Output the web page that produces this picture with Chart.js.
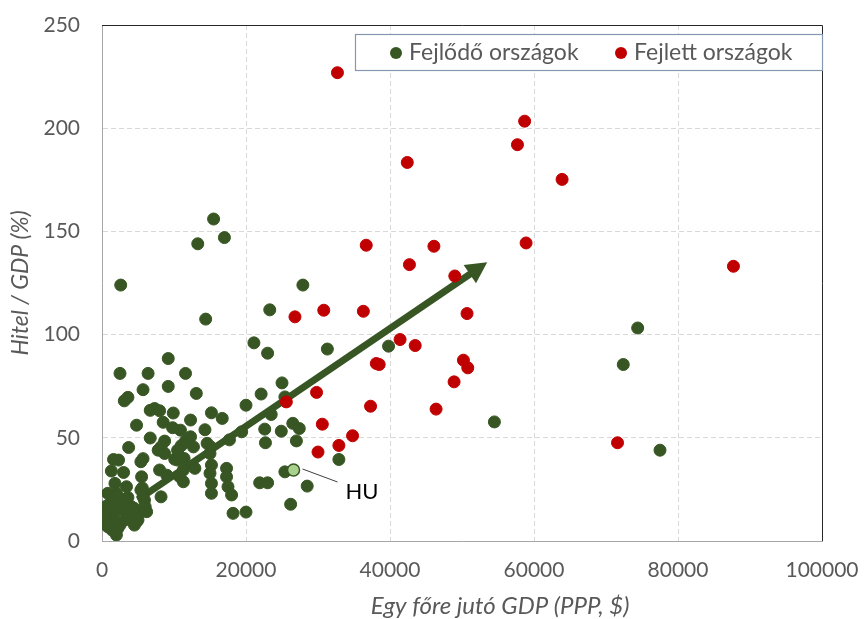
<!DOCTYPE html>
<html>
<head>
<meta charset="utf-8">
<script src="https://cdn.jsdelivr.net/npm/chart.js@4/dist/chart.umd.min.js"></script>
<style>
  html, body { margin: 0; padding: 0; background: #fff; }
  #wrap { width: 865px; height: 619px; }
</style>
</head>
<body>
<div id="wrap"><canvas id="chart" width="865" height="619"></canvas></div>
<script>
// --- Data -----------------------------------------------------------
// Fejlődő országok: [GDP/fő (PPP, $), Hitel/GDP (%)]
const fejlodoPoints = [
    [15500,156],[13300,144],[17000,147],[2600,124],[27900,124],[14400,107.5],[23300,112],
    [21100,96],[23000,91],[31300,93],[39800,94.4],[25000,76.6],[25400,69.8],[22100,71.2],
    [20000,65.8],[23500,61.3],[22600,54.2],[24900,53.2],[26500,57],[27400,54.5],[27000,48.5],
    [22700,47.6],[32900,39.5],[25400,33.5],[21900,28.2],[23000,28.2],[28500,26.6],[26200,17.8],
    [20000,14],[18200,13.4],[54500,57.7],[74400,103.2],[72400,85.5],[77500,44],
    [9200,88.4],[2500,81.2],[6400,81.2],[11600,81.2],[5700,73.3],[9200,74.9],[13100,71.5],
    [3600,69.6],[3100,67.9],[6700,63.3],[7300,64.2],[8000,63.1],[9900,62],[15200,62.1],
    [16700,59.4],[12300,58.6],[4800,56.1],[8500,57.5],[9800,54.9],[10900,53.7],[14300,53.9],
    [6700,49.9],[8700,48.4],[8200,45.6],[7800,44],[12300,50.5],[11600,48.4],[11000,46.2],
    [12700,45.6],[14600,47.3],[15100,45.6],[15000,42.4],[17700,49],[19400,52.9],[3700,45.3],
    [1600,39.5],[2300,39.2],[5700,39.9],[10100,39.6],[11400,40],[1300,33.9],[3000,33.2],
    [8000,34.4],[9000,31.9],[11300,34.4],[10800,31.1],[12900,35.2],[15200,36.8],[15000,32.8],
    [17300,35.2],[17300,31.1],[5500,31.1],[5600,25.7],[11300,28.7],[15200,27.9],[15200,23.1],
    [17500,26.3],[18000,22.3],[1800,27.9],[3400,26.3],[2000,23.1],[3600,21.1],[5700,21.4],
    [6000,16.6],[6200,14.2],[8200,21.4],[1100,18.2],[2700,18.2],[4100,16.6],[900,13.4],
    [2300,15],[3600,11.8],[5000,12.6],[4800,9.3],[900,8.6],[1800,5.3],[2000,2.9],[400,16.6],
    [1800,10.2],[400,11.8],[4500,7.7],[2200,6.1],[800,23.1],[2200,21.4],[5400,38.4],
    [8700,42.4],[10500,44],[10500,39.2],[5400,24.7],[5900,19.8],[4500,15.8],[5900,15.8],
    [3100,15],[1800,15],[5000,10.2],[800,6.9],[1400,5.3],[550,10.2],[2500,7.7],[3200,10.2]
];

// Fejlett országok
const fejlettPoints = [
    [32700,226.9],[58700,203.4],[57700,192],[42400,183.4],[63900,175.2],[58900,144.4],
    [36700,143.3],[46100,142.8],[42700,133.9],[49000,128.4],[87700,133.1],[26800,108.6],
    [30800,111.8],[36300,111.3],[50700,110.2],[41400,97.6],[43500,94.7],[38100,86],
    [38500,85.5],[50200,87.6],[50800,83.9],[48900,77.1],[29800,72],[25600,67.4],
    [37300,65.3],[46400,63.9],[30600,56.6],[34800,51],[32900,46.3],[30000,43.1],[71600,47.6]
];

// Magyarország
const huPoint = [26600, 34.4];
const huLabel = "HU";

// Trend arrow: start and end
const arrowFrom = [5000, 20];
const arrowTo = [53500, 135];

const seriesLabels = ["Fejlődő országok", "Fejlett országok"];
const xTicks = [0, 20000, 40000, 60000, 80000, 100000];
const yTicks = [0, 50, 100, 150, 200, 250];
const xTitle = "Egy főre jutó GDP (PPP, $)";
const yTitle = "Hitel / GDP (%)";

// --- Styles ---------------------------------------------------------
const GREEN = "#375623";
const RED = "#C00000";
const HU_FILL = "#A9D18E";
const TEXT = "#595959";
const FONT = "Lato, 'Open Sans', sans-serif";

const toXY = arr => arr.map(p => ({ x: p[0], y: p[1] }));

// arrow + frame + legend + HU label + x title
const decorPlugin = {
    id: "decor",
    beforeDatasetsDraw(chart) {
        const { ctx, scales: { x, y } } = chart;
        const x1 = x.getPixelForValue(arrowFrom[0]), y1 = y.getPixelForValue(arrowFrom[1]);
        const x2 = x.getPixelForValue(arrowTo[0]), y2 = y.getPixelForValue(arrowTo[1]);
        const ang = Math.atan2(y2 - y1, x2 - x1);
        const headLen = 21, headHalf = 11;
        const bx = x2 - headLen * Math.cos(ang), by = y2 - headLen * Math.sin(ang);
        ctx.save();
        ctx.strokeStyle = GREEN;
        ctx.fillStyle = GREEN;
        ctx.lineWidth = 7;
        ctx.beginPath();
        ctx.moveTo(x1, y1);
        ctx.lineTo(bx + 2 * Math.cos(ang), by + 2 * Math.sin(ang));
        ctx.stroke();
        ctx.beginPath();
        ctx.moveTo(x2, y2);
        ctx.lineTo(bx + headHalf * Math.sin(ang), by - headHalf * Math.cos(ang));
        ctx.lineTo(bx - headHalf * Math.sin(ang), by + headHalf * Math.cos(ang));
        ctx.closePath();
        ctx.fill();
        ctx.restore();
    },
    afterDraw(chart) {
        const { ctx, chartArea: a, scales: { x, y } } = chart;
        ctx.save();
        // top and right frame lines
        ctx.strokeStyle = "#262626";
        ctx.lineWidth = 1;
        ctx.beginPath();
        ctx.moveTo(a.left, a.top + 0.5);
        ctx.lineTo(a.right + 0.5, a.top + 0.5);
        ctx.lineTo(a.right + 0.5, a.bottom);
        ctx.stroke();

        // legend box
        const lx = 355, ly = 34, lw = 467, lh = 36;
        ctx.fillStyle = "#fff";
        ctx.fillRect(lx, ly, lw, lh);
        ctx.strokeStyle = "#8497B0";
        ctx.lineWidth = 1.2;
        ctx.strokeRect(lx + 0.5, ly + 0.5, lw, lh);
        ctx.font = "23px " + FONT;
        ctx.textBaseline = "middle";
        ctx.textAlign = "left";
        const items = [[GREEN, seriesLabels[0], 396], [RED, seriesLabels[1], 621]];
        items.forEach(([c, t, cx]) => {
            ctx.fillStyle = c;
            ctx.beginPath();
            ctx.arc(cx, ly + lh / 2 + 1, 6, 0, Math.PI * 2);
            ctx.fill();
            ctx.fillStyle = TEXT;
            ctx.fillText(t, cx + 13, ly + lh / 2 + 1);
        });

        // HU leader line and label
        const hx = x.getPixelForValue(huPoint[0]), hy = y.getPixelForValue(huPoint[1]);
        ctx.strokeStyle = "#404040";
        ctx.lineWidth = 1;
        ctx.beginPath();
        ctx.moveTo(hx + 9, hy - 1);
        ctx.lineTo(hx + 44, hy + 12);
        ctx.stroke();
        ctx.fillStyle = "#000";
        ctx.font = "22px " + FONT;
        ctx.fillText(huLabel, hx + 52, hy + 22);

        // x axis title (sits right of the plot centre in the original)
        ctx.fillStyle = TEXT;
        ctx.font = "italic 24px " + FONT;
        ctx.textAlign = "center";
        ctx.fillText(xTitle, 500, 606);
        ctx.restore();
    }
};

const gridColor = ctx => {
    const v = ctx.tick && ctx.tick.value;
    const max = ctx.scale.max;
    return (v === 0 || v === max) ? "rgba(0,0,0,0)" : "#D9D9D9";
};

new Chart(document.getElementById("chart").getContext("2d"), {
    type: "scatter",
    data: {
        datasets: [
            {
                label: "HU",
                data: toXY([huPoint]),
                backgroundColor: HU_FILL,
                borderColor: GREEN,
                borderWidth: 1.5,
                pointRadius: 6
            },
            {
                label: seriesLabels[1],
                data: toXY(fejlettPoints),
                backgroundColor: RED,
                borderColor: RED,
                borderWidth: 1,
                pointRadius: 6
            },
            {
                label: seriesLabels[0],
                data: toXY(fejlodoPoints),
                backgroundColor: GREEN,
                borderColor: GREEN,
                borderWidth: 1,
                pointRadius: 6
            }
        ]
    },
    options: {
        responsive: false,
        animation: false,
        layout: { padding: { top: 25, right: 43, bottom: 0, left: 0 } },
        scales: {
            x: {
                type: "linear",
                min: 0,
                max: 100000,
                afterFit: s => { s.height = 78; s.paddingLeft = 0; s.paddingRight = 0; },
                afterBuildTicks: s => { s.ticks = xTicks.map(v => ({ value: v })); },
                ticks: {
                    color: TEXT,
                    padding: 17,
                    maxRotation: 0,
                    font: { family: FONT, size: 21 },
                    callback: v => String(v)
                },
                grid: { color: gridColor, drawTicks: false, lineWidth: 1 },
                border: { display: true, color: "#A6A6A6", width: 1, dash: [5, 3] },
                title: { display: false }
            },
            y: {
                type: "linear",
                min: 0,
                max: 250,
                afterFit: s => { s.width = 102; s.paddingTop = 0; s.paddingBottom = 0; },
                afterBuildTicks: s => { s.ticks = yTicks.map(v => ({ value: v })); },
                ticks: {
                    color: TEXT,
                    padding: 22,
                    font: { family: FONT, size: 21 },
                    callback: v => String(v)
                },
                grid: { color: gridColor, drawTicks: false, lineWidth: 1 },
                border: { display: true, color: "#A6A6A6", width: 1, dash: [5, 3] },
                title: {
                    display: true,
                    text: yTitle,
                    color: TEXT,
                    padding: { top: 7, bottom: 0 },
                    font: { family: FONT, size: 23, style: "italic" }
                }
            }
        },
        plugins: {
            legend: { display: false },
            tooltip: { enabled: false }
        }
    },
    plugins: [decorPlugin]
});
</script>
</body>
</html>
